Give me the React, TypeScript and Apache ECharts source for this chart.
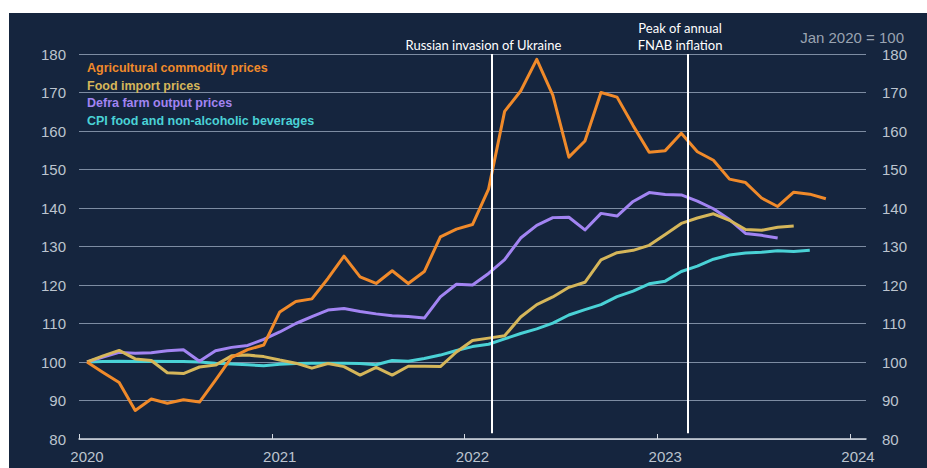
import React, { useEffect, useRef } from "react";
import * as echarts from "echarts";

// Monthly index values, Jan 2020 = 100 (first value = Jan 2020)
const START_YEAR = 2020;
const seriesNames = [
  "Agricultural commodity prices",
  "Food import prices",
  "Defra farm output prices",
  "CPI food and non-alcoholic beverages",
];
const seriesColors = ["#f08a2a", "#d5b65a", "#a284f2", "#4ad2d6"];

const agricultural = [
  100, 97.3, 94.7, 87.4, 90.4, 89.3, 90.2, 89.6, 95.3, 101.2, 103.2, 104.4,
  113.0, 115.7, 116.4, 121.7, 127.5, 122.1, 120.4, 123.7, 120.4, 123.5, 132.5, 134.5,
  135.7, 144.9, 165.1, 170.4, 178.6, 169.3, 153.2, 157.4, 170.0, 168.8, 161.4, 154.5,
  154.9, 159.4, 154.6, 152.4, 147.5, 146.6, 142.6, 140.4, 144.1, 143.6, 142.4,
];
const foodImport = [
  100, 101.6, 103.0, 100.8, 100.4, 97.2, 97.0, 98.7, 99.2, 101.6, 101.8, 101.4,
  100.5, 99.7, 98.4, 99.6, 98.8, 96.6, 98.6, 96.6, 98.9, 98.9, 98.8, 102.6,
  105.6, 106.2, 106.8, 111.7, 114.9, 116.9, 119.4, 120.7, 126.5, 128.4, 129.0, 130.3,
  133.1, 136.0, 137.4, 138.5, 136.8, 134.4, 134.2, 135.0, 135.3,
];
const defra = [
  100, 101.3, 102.5, 102.3, 102.4, 102.9, 103.2, 100.2, 102.9, 103.8, 104.3, 105.9,
  107.8, 110.0, 111.8, 113.5, 113.9, 113.1, 112.5, 112.0, 111.8, 111.4, 116.9, 120.2,
  120.0, 123.0, 126.6, 132.2, 135.5, 137.5, 137.6, 134.3, 138.6, 137.9, 141.7, 144.0,
  143.5, 143.4, 141.8, 139.8, 137.0, 133.4, 132.9, 132.2,
];
const cpi = [
  100, 100.1, 100.2, 100.1, 100.2, 100.1, 100.1, 100.0, 99.7, 99.5, 99.3, 99.0,
  99.4, 99.6, 99.7, 99.7, 99.7, 99.6, 99.3, 100.4, 100.2, 100.9, 101.8, 103.0,
  104.0, 104.6, 106.0, 107.4, 108.6, 110.1, 112.2, 113.6, 114.9, 117.0, 118.4, 120.3,
  121.0, 123.5, 124.9, 126.7, 127.8, 128.3, 128.5, 128.9, 128.7, 129.0,
];

const yearTicks = [2020, 2021, 2022, 2023, 2024];
const invasionDate = 2022.14; // late Feb 2022
const fnabPeakDate = 2023.16; // Mar 2023
const annotations = [
  { lines: ["Russian invasion of Ukraine"], x: invasionDate },
  { lines: ["Peak of annual", "FNAB inflation"], x: fnabPeakDate },
];

const toPoints = (vals: number[]) =>
  vals.map((v, i) => [START_YEAR + (i + 0.5) / 12, v]);

export default function App() {
  const ref = useRef<HTMLDivElement>(null);
  useEffect(() => {
    const chart = echarts.init(ref.current!, null, { renderer: "svg" });
    const labelColor = "#bcc4cf";
    const gridColor = "#7d8ca2";
    const font = "Liberation Sans, Arial, sans-serif";
    const data = [agricultural, foodImport, defra, cpi];
    const drawOrder = [3, 2, 1, 0];
    const series: any[] = drawOrder.map((idx) => ({
      name: seriesNames[idx],
      type: "line",
      xAxisIndex: 0,
      yAxisIndex: 0,
      data: toPoints(data[idx]),
      symbol: "none",
      lineStyle: { color: seriesColors[idx], width: 3, join: "round" },
      itemStyle: { color: seriesColors[idx] },
      z: 3,
    }));
    series[series.length - 1].markLine = {
      silent: true,
      symbol: "none",
      label: { show: false },
      lineStyle: { color: "#ffffff", width: 2, type: "solid" },
      data: [invasionDate, fnabPeakDate].map((d) => [
        { coord: [d, 180] },
        { coord: [d, 81.5] },
      ]),
      z: 5,
    };

    const graphic: any[] = [];
    annotations.forEach((a) => {
      const n = a.lines.length;
      a.lines.forEach((t, k) => {
        graphic.push({
          type: "text",
          x: 0,
          y: 0,
          style: {
            text: t,
            fill: "#ffffff",
            fontSize: 13,
            fontFamily: "Lato, sans-serif",
            align: "center",
            verticalAlign: "middle",
          },
          _dateX: a.x,
          _row: k - (n - 1),
        });
      });
    });

    chart.setOption({
      animation: false,
      backgroundColor: "#15253e",
      grid: [
        { left: 70, right: 61, top: 41, bottom: 29 },
        { left: 70, right: 77, top: 41, bottom: 29 },
      ],
      xAxis: [
        {
          type: "value",
          gridIndex: 0,
          min: 2020,
          max: 2024 + 1 / 12,
          axisLine: { show: true, lineStyle: { color: "#d3d9e1", width: 1.5 } },
          axisTick: { show: false },
          axisLabel: { show: false },
          splitLine: { show: false },
        },
        {
          type: "value",
          gridIndex: 1,
          min: yearTicks[0],
          max: yearTicks[yearTicks.length - 1],
          interval: 1,
          axisLine: { show: false },
          axisTick: {
            show: true,
            inside: true,
            length: 5,
            lineStyle: { color: "#d3d9e1", width: 1 },
          },
          axisLabel: {
            show: true,
            color: labelColor,
            fontSize: 15,
            fontFamily: font,
            margin: 10,
            padding: [0, 0, 0, 16],
            formatter: (v: number) => String(v),
          },
          splitLine: { show: false },
        },
      ],
      yAxis: [
        {
          type: "value",
          gridIndex: 0,
          min: 80,
          max: 180,
          interval: 10,
          axisLine: { show: false },
          axisTick: { show: false },
          axisLabel: { color: labelColor, fontSize: 15, fontFamily: font, margin: 13 },
          splitLine: { show: true, lineStyle: { color: gridColor, width: 1 } },
        },
        {
          type: "value",
          gridIndex: 0,
          position: "right",
          min: 80,
          max: 180,
          interval: 10,
          axisLine: { show: false },
          axisTick: { show: false },
          axisLabel: { color: labelColor, fontSize: 15, fontFamily: font, margin: 16 },
          splitLine: { show: false },
        },
        {
          type: "value",
          gridIndex: 1,
          min: 0,
          max: 1,
          show: false,
        },
      ],
      legend: {
        orient: "vertical",
        left: 68,
        top: 43,
        icon: "none",
        itemWidth: 0,
        itemHeight: 14,
        itemGap: 4,
        selectedMode: false,
        textStyle: { fontSize: 12.5, fontWeight: "bold", fontFamily: font },
        data: seriesNames.map((n, i) => ({
          name: n,
          textStyle: { color: seriesColors[i] },
        })),
      },
      series,
    });

    const finalGraphic = graphic.map((g) => {
      const px = chart.convertToPixel({ xAxisIndex: 0 }, g._dateX) as number;
      const { _dateX, _row, ...rest } = g;
      return { ...rest, x: px - 8, y: 32 + _row * 17 };
    });
    finalGraphic.push({
      type: "text",
      x: 895,
      y: 24,
      style: {
        text: "Jan 2020 = 100",
        fill: "#9aa3b1",
        fontSize: 15,
        fontFamily: font,
        align: "right",
        verticalAlign: "middle",
      },
    });
    chart.setOption({ graphic: finalGraphic });

    return () => chart.dispose();
  }, []);

  return (
    <div
      style={{
        position: "absolute",
        left: 0,
        top: 0,
        width: 927,
        height: 468,
        background: "#ffffff",
      }}
    >
      <div
        ref={ref}
        style={{ position: "absolute", left: 9, top: 13, width: 918, height: 455 }}
      />
    </div>
  );
}
